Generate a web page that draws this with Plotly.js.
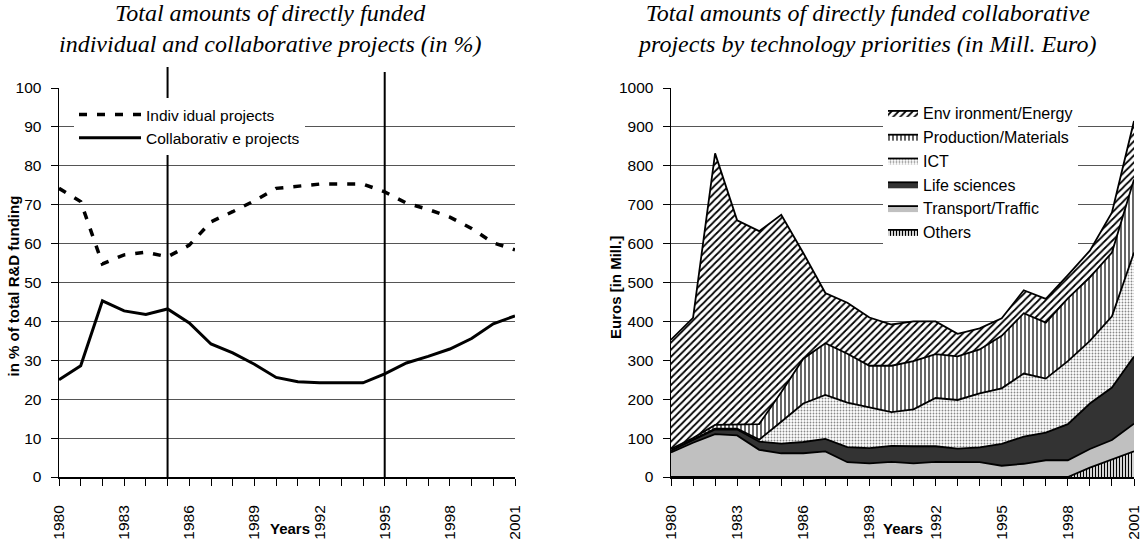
<!DOCTYPE html>
<html><head><meta charset="utf-8">
<script src="https://cdn.plot.ly/plotly-3.0.1.min.js"></script>
<style>html,body{margin:0;padding:0;background:#fff}#chart{width:1144px;height:541px}</style>
</head><body><div id="chart"></div>
<script>
// ---------- data ----------
const years = [1980,1981,1982,1983,1984,1985,1986,1987,1988,1989,1990,1991,1992,1993,1994,1995,1996,1997,1998,1999,2000,2001];

// left chart: share of total R&D funding (%)
const individualPct    = [74.2,70.8,54.8,57.1,57.8,56.6,59.6,65.6,68.2,71.0,74.2,74.8,75.3,75.3,75.3,73.3,70.4,68.8,66.8,63.9,60.2,58.4];
const collaborativePct = [25.0,28.6,45.3,42.7,41.8,43.2,39.6,34.2,31.9,29.0,25.6,24.5,24.2,24.2,24.2,26.5,29.3,31.0,32.9,35.6,39.4,41.4];

// right chart: collaborative projects by technology priority (Mill. Euro), stacked bottom -> top
const others      = [0,0,0,0,0,0,0,0,0,0,0,0,0,0,0,0,0,0,0,24,44,66];
const transport   = [63,88,110,107,70,61,61,66,38,35,39,35,39,39,38,29,34,43,43,48,51,71];
const lifeSci     = [5,7,12,15,21,25,29,32,39,39,41,44,40,34,38,56,70,71,93,117,135,173];
const ict         = [0,0,2,2,5,56,99,113,114,105,87,95,124,125,139,143,162,139,162,161,183,267];
const production  = [4,5,10,11,40,76,115,133,126,107,119,124,113,112,113,135,155,144,161,163,164,188];
const environment = [281,309,698,525,496,456,272,129,131,124,106,102,84,58,54,45,59,61,60,69,103,150];

const leftNames  = ['Indiv idual projects','Collaborativ e projects'];
const rightNames = ['Others','Transport/Traffic','Life sciences','ICT','Production/Materials','Env ironment/Energy'];
const markerYears = [1985, 1995];

// ---------- helpers ----------
const W = 1144, H = 541, T = 88, B = 64;
const plotH = H - T - B;
const py = y => (H - B - y) / plotH;
const px = x => x / W;
const SANS = 'Liberation Sans, Arial, sans-serif';
const SERIF = 'Liberation Serif, Times New Roman, serif';

const traces = [
  {x: years, y: individualPct, name: leftNames[0], type: 'scatter', mode: 'lines',
   line: {color: '#000', width: 3.5, dash: '8px,10px'}, xaxis: 'x', yaxis: 'y', legend: 'legend'},
  {x: years, y: collaborativePct, name: leftNames[1], type: 'scatter', mode: 'lines',
   line: {color: '#000', width: 3}, xaxis: 'x', yaxis: 'y', legend: 'legend'}
];

const rightSeries = [others, transport, lifeSci, ict, production, environment];
const rightFill = [
  {fillcolor: '#fff', fillpattern: {shape: '|', size: 3, solidity: 0.45, fgcolor: '#000', bgcolor: '#fff'}},
  {fillcolor: '#c0c0c0'},
  {fillcolor: '#333333'},
  {fillcolor: '#fff', fillpattern: {shape: '.', size: 3, solidity: 0.3, fgcolor: '#888', bgcolor: '#fff'}},
  {fillcolor: '#fff', fillpattern: {shape: '|', size: 4, solidity: 0.3, fgcolor: '#000', bgcolor: '#fff'}},
  {fillcolor: '#fff', fillpattern: {shape: '/', size: 5, solidity: 0.35, fgcolor: '#000', bgcolor: '#fff'}}
];
rightSeries.forEach((vals, i) => {
  traces.push(Object.assign({
    x: years, y: vals, name: rightNames[i], type: 'scatter', mode: 'lines',
    stackgroup: 'tech', line: {color: '#000', width: 1.8},
    xaxis: 'x2', yaxis: 'y2', legend: 'legend2'
  }, rightFill[i]));
});

const xBase = {
  range: [1980, 2001], tick0: 1980, dtick: 3, ticks: 'outside', ticklen: 7, tickwidth: 1, tickcolor: '#000',
  tickangle: -90, showline: true, linecolor: '#000', linewidth: 2, showgrid: false, zeroline: false,
  minor: {dtick: 1, ticks: 'outside', ticklen: 7, tickwidth: 1, tickcolor: '#000', showgrid: false},
  ticklabelstandoff: 13, ticklabeloverflow: 'allow',
  tickfont: {family: SANS, size: 15.5, color: '#000'}, fixedrange: true
};
const yBase = {
  ticks: 'outside', ticklen: 7, tickwidth: 1, tickcolor: '#000', showline: true, linecolor: '#000', linewidth: 1.5,
  showgrid: true, gridcolor: '#555', gridwidth: 1, zeroline: false, ticklabelstandoff: 6,
  tickfont: {family: SANS, size: 15.5, color: '#000'}, fixedrange: true
};

const annotations = [
  {text: '<i>Total amounts of directly funded<br>individual and collaborative projects (in %)</i>', x: px(270), y: py(29)},
  {text: '<i>Total amounts of directly funded collaborative<br>projects by technology priorities (in Mill. Euro)</i>', x: px(866), y: py(29)}
].map(a => Object.assign(a, {xref: 'paper', yref: 'paper', showarrow: false, xanchor: 'center', yanchor: 'middle',
  align: 'center', font: {family: SERIF, size: 24, color: '#000'}}));

[
  {text: '<b>in % of total R&D funding</b>', x: px(12.5), y: py(286), textangle: -90},
  {text: '<b>Euros [in Mill.]</b>', x: px(615), y: py(288), textangle: -90},
  {text: '<b>Years</b>', x: px(290), y: py(528)},
  {text: '<b>Years</b>', x: px(903), y: py(528)}
].forEach(a => annotations.push(Object.assign(a, {xref: 'paper', yref: 'paper', showarrow: false,
  xanchor: 'center', yanchor: 'middle', font: {family: SANS, size: 15, color: '#000'}})));

const shapes = markerYears.map((yr, i) => ({
  type: 'line', xref: 'x', yref: 'paper', x0: yr, x1: yr, y0: 0, y1: i === 0 ? py(67) : py(72),
  line: {color: '#000', width: 2}, layer: 'above'
}));

const layout = {
  width: W, height: H, margin: {l: 0, r: 0, t: T, b: B},
  paper_bgcolor: '#fff', plot_bgcolor: '#fff', showlegend: true,
  font: {family: SANS, size: 15.5, color: '#000'},
  xaxis: Object.assign({}, xBase, {domain: [px(59), px(515)], anchor: 'y'}),
  yaxis: Object.assign({}, yBase, {domain: [0, 1], range: [0, 100], dtick: 10, anchor: 'x'}),
  xaxis2: Object.assign({}, xBase, {domain: [px(671), px(1134)], anchor: 'y2'}),
  yaxis2: Object.assign({}, yBase, {domain: [0, 1], range: [0, 1000], dtick: 100, anchor: 'x2'}),
  legend: {x: px(74), xanchor: 'left', y: py(98), yanchor: 'top', bgcolor: '#fff', borderwidth: 0,
    font: {family: SANS, size: 15.5, color: '#000'}, itemwidth: 62, traceorder: 'normal', tracegroupgap: 0},
  legend2: {x: px(883), xanchor: 'left', y: py(96), yanchor: 'top', bgcolor: '#fff', borderwidth: 0,
    font: {family: SANS, size: 16, color: '#000'}, itemwidth: 30, traceorder: 'reversed', tracegroupgap: 0},
  annotations: annotations,
  shapes: shapes,
  hovermode: false
};

Plotly.newPlot('chart', traces, layout, {staticPlot: true, displayModeBar: false});
</script>
</body></html>
